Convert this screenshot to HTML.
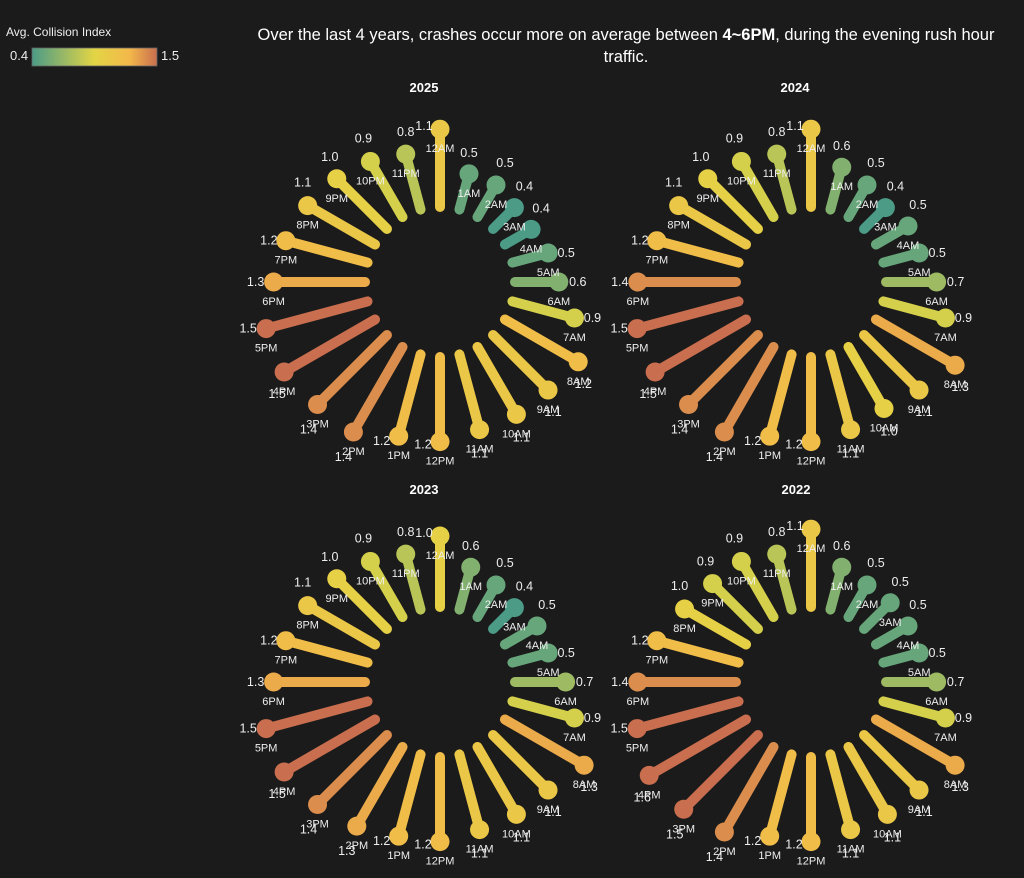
<!DOCTYPE html>
<html><head><meta charset="utf-8"><style>
html,body{margin:0;padding:0;background:#1b1b1b;}
body{width:1024px;height:878px;overflow:hidden;font-family:"Liberation Sans",sans-serif;}
</style></head><body>
<svg id="s" width="1024" height="878" xmlns="http://www.w3.org/2000/svg" style="position:absolute;left:0;top:0">
<defs><linearGradient id="lg" x1="0" x2="1" y1="0" y2="0">
<stop offset="0" stop-color="#4b9b87"/><stop offset="0.5" stop-color="#e3d545"/><stop offset="0.78" stop-color="#f3b84a"/><stop offset="1" stop-color="#c96e4f"/>
</linearGradient></defs>
<text x="6" y="36" fill="#eee" font-size="12">Avg. Collision Index</text>
<text x="10" y="60" fill="#eee" font-size="13">0.4</text>
<rect x="32" y="48" width="125" height="18" fill="url(#lg)" stroke="#666" stroke-width="0.8"/>
<text x="161" y="60" fill="#eee" font-size="13">1.5</text>
<text x="626" y="40" fill="#fff" font-size="16.5" text-anchor="middle">Over the last 4 years, crashes occur more on average between <tspan font-weight="bold">4~6PM</tspan>, during the evening rush hour</text>
<text x="626" y="62" fill="#fff" font-size="16.5" text-anchor="middle">traffic.</text>
<text x="424" y="92" fill="#fff" font-size="13" font-weight="bold" text-anchor="middle">2025</text>
<text x="795" y="92" fill="#fff" font-size="13" font-weight="bold" text-anchor="middle">2024</text>
<text x="424" y="494" fill="#fff" font-size="13" font-weight="bold" text-anchor="middle">2023</text>
<text x="796" y="494" fill="#fff" font-size="13" font-weight="bold" text-anchor="middle">2022</text>
</svg>
<script>
var hours=["12AM","1AM","2AM","3AM","4AM","5AM","6AM","7AM","8AM","9AM","10AM","11AM","12PM","1PM","2PM","3PM","4PM","5PM","6PM","7PM","8PM","9PM","10PM","11PM"];
var data=[
{c:[440,282],v:[1.1,0.5,0.5,0.4,0.4,0.5,0.6,0.9,1.2,1.1,1.1,1.1,1.2,1.2,1.4,1.4,1.5,1.5,1.3,1.2,1.1,1.0,0.9,0.8]},
{c:[811,282],v:[1.1,0.6,0.5,0.4,0.5,0.5,0.7,0.9,1.3,1.1,1.0,1.1,1.2,1.2,1.4,1.4,1.5,1.5,1.4,1.2,1.1,1.0,0.9,0.8]},
{c:[440,682],v:[1.0,0.6,0.5,0.4,0.5,0.5,0.7,0.9,1.3,1.1,1.1,1.1,1.2,1.2,1.3,1.4,1.5,1.5,1.3,1.2,1.1,1.0,0.9,0.8]},
{c:[811,682],v:[1.1,0.6,0.5,0.5,0.5,0.5,0.7,0.9,1.3,1.1,1.1,1.1,1.2,1.2,1.4,1.5,1.6,1.5,1.4,1.2,1.0,0.9,0.9,0.8]}];
var off=[[-16,-3],[0,-21],[9,-22],[10,-21],[10,-21],[18,0],[19,0],[18,0],[5,22],[5,22],[5,23],[0,24],[-17,3],[-17,5],[-10,25],[-9,25],[-7,22],[-18,0],[-18,0],[-17,0],[-5,-23],[-7,-22],[-7,-23],[0,-22]];
var stops=[[0,[75,155,135]],[0.5,[227,213,69]],[0.78,[243,184,74]],[1,[201,110,79]]];
function col(v){var t=Math.max(0,Math.min(1,(v-0.4)/1.1));for(var i=1;i<stops.length;i++){if(t<=stops[i][0]){var a=stops[i-1],b=stops[i],f=(t-a[0])/(b[0]-a[0]);var c=a[1].map(function(x,k){return Math.round(x+(b[1][k]-x)*f)});return "rgb("+c.join(",")+")";}}return "rgb(201,110,79)";}
var s=document.getElementById("s"),NS="http://www.w3.org/2000/svg";
function el(n,a,t){var e=document.createElementNS(NS,n);for(var k in a)e.setAttribute(k,a[k]);if(t!=null)e.textContent=t;s.appendChild(e);return e;}
data.forEach(function(d){
 var cx=d.c[0],cy=d.c[1];
 d.v.forEach(function(v,h){
  var th=(-90+15*h)*Math.PI/180,r=78+68*v,co=Math.cos(th),si=Math.sin(th);
  var x=cx+r*co,y=cy+r*si,c=col(v);
  el("line",{x1:cx+75*co,y1:cy+75*si,x2:x,y2:y,stroke:c,"stroke-width":10,"stroke-linecap":"round"});
  el("circle",{cx:x,cy:y,r:9.5,fill:c});
 });
 d.v.forEach(function(v,h){
  var th=(-90+15*h)*Math.PI/180,r=78+68*v;
  var x=cx+r*Math.cos(th),y=cy+r*Math.sin(th);
  el("text",{x:x,y:y+20,fill:"#eee","font-size":11,"text-anchor":"middle","dominant-baseline":"central"},hours[h]);
  el("text",{x:x+off[h][0],y:y+off[h][1],fill:"#eee","font-size":12.5,"text-anchor":"middle","dominant-baseline":"central"},v.toFixed(1));
 });
});
</script>
</body></html>
